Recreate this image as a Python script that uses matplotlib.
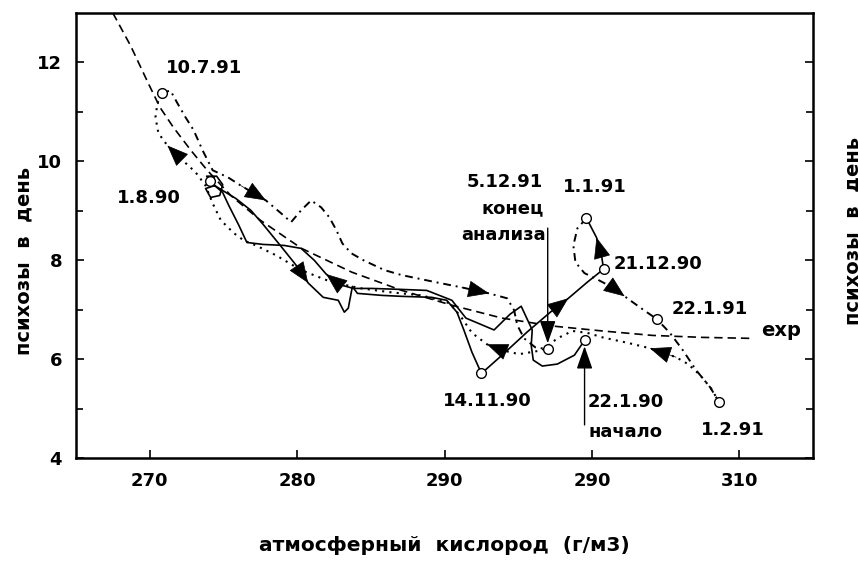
import matplotlib
matplotlib.use("Agg")
import matplotlib.pyplot as plt

# exp fit curve
exp_x = [267.5, 268.7, 269.9, 270.7, 271.6, 272.8, 273.9, 275.5, 277.5, 280.3,
         283.7, 287.1, 290.5, 293.9, 297.3, 300.7, 304.1, 307.5, 310.8]
exp_y = [13.0, 12.34, 11.58, 11.09, 10.69, 10.22, 9.82, 9.31, 8.81, 8.24,
         7.76, 7.39, 7.09, 6.83, 6.67, 6.57, 6.48, 6.44, 6.42]

# 22.1.90 -> 1.8.90 (solid)
s1_x = [299.5, 298.81, 297.65, 296.63, 296.02, 295.88, 295.95, 295.20, 294.45, 293.36,
        291.45, 290.50, 288.79, 287.09, 285.04, 283.81, 282.86, 281.97, 281.16, 280.27,
        279.11, 277.68, 276.59, 276.04, 275.36, 274.95, 274.41]
s1_y = [6.38, 6.08, 5.90, 5.86, 5.98, 6.28, 6.59, 7.07, 6.91, 6.59,
        6.83, 7.19, 7.39, 7.41, 7.43, 7.43, 7.51, 7.72, 8.00, 8.24,
        8.30, 8.32, 8.36, 8.71, 9.11, 9.37, 9.51]

# 1.8.90 -> 14.11.90 -> 21.12.90 -> 1.1.91 (solid)
s2_x = [274.41, 273.86, 274.54, 274.95, 274.75, 274.13, 273.79, 274.41, 274.95, 275.84,
        276.86, 277.68, 278.91, 279.93, 280.75, 281.77, 282.79, 283.20, 283.47, 283.75,
        284.09, 285.72, 287.09, 289.13, 290.15, 290.84, 291.31, 291.86, 292.40, 292.54,
        293.90, 295.61, 297.18, 298.40, 299.70, 300.79, 300.65, 300.31, 299.63]
s2_y = [9.51, 9.70, 9.70, 9.53, 9.31, 9.27, 9.45, 9.51, 9.41, 9.25,
        9.01, 8.73, 8.28, 7.90, 7.54, 7.25, 7.19, 6.95, 7.03, 7.47,
        7.33, 7.29, 7.27, 7.25, 7.19, 6.95, 6.59, 6.14, 5.78, 5.72,
        6.08, 6.55, 6.95, 7.23, 7.56, 7.82, 8.10, 8.46, 8.85]

# 1.1.91 -> 22.1.91 -> 1.2.91
d1_x = [299.63, 299.02, 298.74, 298.88, 299.49, 300.31, 301.40, 302.22, 303.24, 304.40,
        305.29, 306.17, 307.06, 308.02, 308.63]
d1_y = [8.85, 8.65, 8.30, 7.96, 7.74, 7.62, 7.45, 7.27, 7.05, 6.81,
        6.53, 6.18, 5.78, 5.43, 5.13]

# 1.2.91 -> 10.7.91
d2_x = [308.63, 308.08, 307.33, 306.52, 305.70, 303.93, 302.56, 300.72, 299.70, 298.68,
        297.65, 296.63, 295.06, 293.90, 292.88, 291.86, 291.18, 290.36, 288.45, 286.41,
        284.36, 282.32, 280.27, 278.57, 277.20, 276.38, 275.70, 274.82, 274.27, 273.79,
        273.11, 272.09, 271.20, 270.59, 270.39, 270.52, 270.79]
d2_y = [5.13, 5.41, 5.68, 5.90, 6.04, 6.22, 6.32, 6.44, 6.53, 6.57,
        6.42, 6.18, 6.10, 6.18, 6.30, 6.53, 6.83, 7.13, 7.29, 7.35,
        7.43, 7.56, 7.80, 8.10, 8.30, 8.40, 8.55, 8.81, 9.15, 9.51,
        9.78, 10.06, 10.32, 10.57, 10.89, 11.17, 11.39]

# 10.7.91 -> 5.12.91
d3_x = [270.79, 271.41, 271.89, 272.43, 272.98, 273.59, 274.27, 275.29, 276.18, 277.88,
        278.91, 279.59, 280.27, 280.95, 281.63, 282.18, 282.66, 283.07, 283.68, 284.50,
        285.93, 287.09, 289.34, 291.18, 293.02, 294.25, 294.72, 294.93, 295.40, 296.15,
        297.04]
d3_y = [11.39, 11.43, 11.17, 10.89, 10.63, 10.22, 9.82, 9.68, 9.51, 9.21,
        8.95, 8.77, 9.01, 9.21, 9.07, 8.87, 8.61, 8.34, 8.14, 8.00,
        7.80, 7.70, 7.56, 7.45, 7.33, 7.23, 6.99, 6.69, 6.42, 6.24,
        6.20]

# marked dates
pt_x = [270.8, 274.1, 292.5, 297.0, 299.5, 299.6, 300.8, 304.4, 308.6]
pt_y = [11.39, 9.60, 5.72, 6.20, 6.38, 8.85, 7.82, 6.81, 5.13]

x_ticks = [270, 280, 290, 300, 310]
x_ticklabels = ["270", "280", "290", "290", "310"]
y_ticks = [4, 6, 8, 10, 12]

plt.rcParams["font.family"] = ["DejaVu Sans"]
plt.rcParams["font.weight"] = "bold"

fig = plt.figure(figsize=(8.58, 5.64), dpi=100)
ax = fig.add_axes([0.0886, 0.1879, 0.859, 0.789])

lw = 1.2
dot = (0, (1, 2.5))
dashdot = (0, (4, 2.5, 1, 2.5))

ax.plot(exp_x, exp_y, color="k", lw=lw, linestyle=(0, (5, 3)))
ax.plot(s1_x, s1_y, color="k", lw=lw)
ax.plot(s2_x, s2_y, color="k", lw=lw)
ax.plot(d1_x, d1_y, color="k", lw=1.4, linestyle=dashdot)
ax.plot(d2_x, d2_y, color="k", lw=1.5, linestyle=dot)
ax.plot(d3_x, d3_y, color="k", lw=1.4, linestyle=dashdot)
ax.plot(pt_x, pt_y, "o", ms=7, mfc="white", mec="k", mew=1.0, zorder=5)


def arrow_on(xs, ys, i):
    ax.annotate("", xy=(xs[i], ys[i]), xytext=(xs[i - 1], ys[i - 1]),
                arrowprops=dict(arrowstyle="-|>,head_length=1.0,head_width=0.4",
                                color="k", lw=0.5, mutation_scale=14,
                                shrinkA=0, shrinkB=0), zorder=6)


arrow_on(s1_x, s1_y, 17)
arrow_on(s2_x, s2_y, 14)
arrow_on(s2_x, s2_y, 33)
arrow_on(s2_x, s2_y, 37)
arrow_on(d1_x, d1_y, 7)
arrow_on(d2_x, d2_y, 5)
arrow_on(d2_x, d2_y, 14)
arrow_on(d2_x, d2_y, 32)
arrow_on(d3_x, d3_y, 9)
arrow_on(d3_x, d3_y, 24)

# start / end pointers
ax.annotate("", xy=(pt_x[3], 6.32), xytext=(pt_x[3], 8.65),
            arrowprops=dict(arrowstyle="-|>,head_length=1.0,head_width=0.35",
                            color="k", lw=1.0, mutation_scale=14, shrinkA=0, shrinkB=0))
ax.annotate("", xy=(pt_x[4], 6.26), xytext=(pt_x[4], 4.67),
            arrowprops=dict(arrowstyle="-|>,head_length=1.0,head_width=0.35",
                            color="k", lw=1.0, mutation_scale=14, shrinkA=0, shrinkB=0))

fs = 13
ax.text(271.1, 11.88, "10.7.91", fontsize=fs, va="center")
ax.text(267.8, 9.25, "1.8.90", fontsize=fs, va="center")
ax.text(296.7, 9.58, "5.12.91", fontsize=fs, va="center", ha="right")
ax.text(296.7, 9.05, "конец", fontsize=fs, va="center", ha="right")
ax.text(296.9, 8.52, "анализа", fontsize=fs, va="center", ha="right")
ax.text(298.0, 9.49, "1.1.91", fontsize=fs, va="center")
ax.text(301.5, 7.92, "21.12.90", fontsize=fs, va="center")
ax.text(305.4, 7.01, "22.1.91", fontsize=fs, va="center")
ax.text(311.5, 6.57, "exp", fontsize=fs + 1, va="center", fontweight="heavy")
ax.text(289.9, 5.15, "14.11.90", fontsize=fs, va="center")
ax.text(299.7, 5.13, "22.1.90", fontsize=fs, va="center")
ax.text(299.8, 4.53, "начало", fontsize=fs, va="center")
ax.text(307.4, 4.57, "1.2.91", fontsize=fs, va="center")

ax.set_xlim(265, 315)
ax.set_ylim(4, 13)
ax.set_xticks(x_ticks)
ax.set_xticklabels(x_ticklabels)
ax.set_yticks(y_ticks)
ax.set_yticks([5, 7, 9, 11], minor=True)
ax.tick_params(axis="both", direction="in", labelsize=13, length=6, width=1.2, pad=10)
ax.tick_params(axis="y", which="both", right=True)
ax.tick_params(axis="y", which="minor", direction="in", length=5, width=1.2)
for sp in ax.spines.values():
    sp.set_linewidth(1.8)

ax.set_xlabel("атмосферный  кислород  (г/м3)", fontsize=14.5, fontweight="bold",
              labelpad=33)
fig.text(0.028, 0.537, "психозы  в  день", rotation=90, fontsize=14,
         ha="center", va="center")
# second label, cut by the right edge as in the original scan
fig.text(0.983, 0.59, "психозы  в  день", rotation=90, fontsize=14,
         ha="left", va="center")

fig.savefig("out.png", dpi=100)
